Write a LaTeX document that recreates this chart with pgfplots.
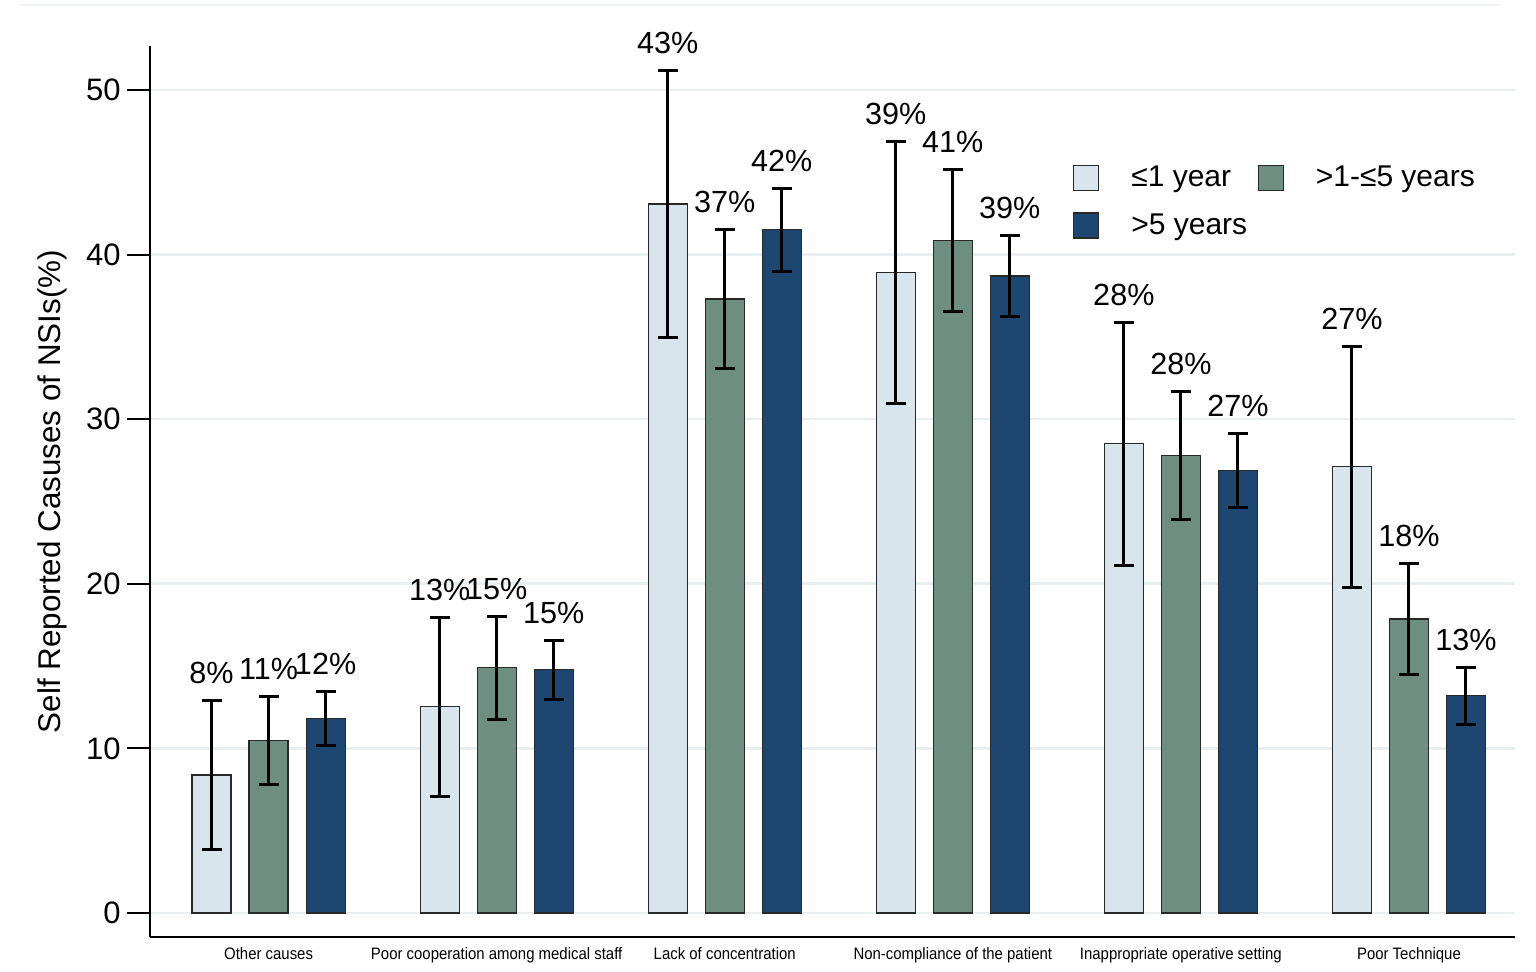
\documentclass[border=0pt]{standalone}
\usepackage{pgfplots}
\pgfplotsset{compat=1.18}
\usepackage{pgfplotstable}
\usepackage{graphicx}
\usepackage{fontspec}
\setmainfont{Liberation Sans}

\definecolor{cL}{RGB}{217,229,237}
\definecolor{cG}{RGB}{111,142,130}
\definecolor{cD}{RGB}{29,71,112}
\definecolor{gridc}{RGB}{232,239,241}
\definecolor{edgec}{RGB}{40,40,40}

% x = category index, y = value, e = half-width of error bar, lbl = printed percentage
\pgfplotstableread{
x y e lbl
0 8.38 4.54 8
1 12.53 5.44 13
2 43.07 8.10 43
3 38.90 7.97 39
4 28.50 7.40 28
5 27.10 7.30 27
}\dataL
\pgfplotstableread{
x y e lbl
0 10.50 2.68 11
1 14.90 3.12 15
2 37.30 4.22 37
3 40.87 4.30 41
4 27.80 3.90 28
5 17.86 3.35 18
}\dataG
\pgfplotstableread{
x y e lbl
0 11.80 1.65 12
1 14.78 1.80 15
2 41.50 2.50 42
3 38.70 2.45 39
4 26.90 2.25 27
5 13.20 1.73 13
}\dataD

\newcommand{\xl}[1]{\scalebox{0.9}[1]{#1}}
\pgfplotsset{
  mybar/.style={ybar, bar width=0.171, bar shift=0, draw=edgec, line width=0.6pt,
    legend image code/.code={\draw[##1] (0pt,-6.25pt) rectangle (12.5pt,6.25pt); \path (27.5pt,0pt);},
    error bars/y dir=both, error bars/y explicit,
    error bars/error bar style={line width=1.5pt, black, solid},
    error bars/error mark options={rotate=90, mark size=5pt, line width=1.5pt, black}},
  mylab/.style={draw=none, mark=none, forget plot,
    nodes near coords={\pgfplotspointmeta\%},
    point meta=explicit symbolic,
    every node near coord/.append style={anchor=base, yshift=8.5pt, inner sep=0pt, black, font=\fontsize{15.3}{18}\selectfont}},
}

\begin{document}
\begin{tikzpicture}
\useasboundingbox (-75pt,-17pt) rectangle (693pt,468.5pt);
\draw[line width=0.8pt, color={rgb,255:red,240;green,243;blue,245}] (-65pt,466pt) -- (675pt,466pt);
\begin{axis}[
  at={(0pt,0pt)}, anchor=south west,
  scale only axis, width=682.5pt, height=445.5pt,
  xmin=-0.52, xmax=5.465, ymin=-1.46, ymax=52.67,
  axis x line*=bottom, axis y line*=left,
  axis line style={line width=1pt, black},
  ytick={0,10,20,30,40,50},
  xtick={0,1,2,3,4,5},
  xticklabels={\xl{Other causes},\xl{Poor cooperation among medical staff},\xl{Lack of concentration},\xl{Non-compliance of the patient},\xl{Inappropriate operative setting},\xl{Poor Technique}},
  xtick style={draw=none},
  ytick style={line width=1pt, black},
  tick align=outside, major tick length=11.5pt,
  ymajorgrids, grid style={line width=1.3pt, gridc},
  /pgf/number format/assume math mode=true,
  yticklabel style={font=\fontsize{15.5}{18}\selectfont, inner sep=3pt},
  xticklabel style={font=\fontsize{8.3}{10}\selectfont, yshift=10pt},
  ylabel={Self Reported Casuses of NSIs(\%)},
  ylabel style={at={(axis description cs:-0.0718,0.5)}, anchor=center, font=\fontsize{15.7}{18}\selectfont},
  legend columns=2,
  legend style={at={(rel axis cs:0.676,0.868)}, anchor=north west, draw=none, fill=none,
    inner sep=0pt, font=\fontsize{15}{18}\selectfont,
    /tikz/every even column/.append style={column sep=4.2pt}, row sep=10pt,
    nodes={inner sep=1pt}},
  legend cell align=left,
]
\addplot[mybar, fill=cL] table[x expr=\thisrow{x}-0.25, y=y, y error=e] {\dataL};
\addlegendentry{≤1 year}
\addplot[mybar, fill=cG] table[x=x, y=y, y error=e] {\dataG};
\addlegendentry{>1-≤5 years}
\addplot[mybar, fill=cD] table[x expr=\thisrow{x}+0.25, y=y, y error=e] {\dataD};
\addlegendentry{>5 years}
\addplot[mylab] table[x expr=\thisrow{x}-0.25, y expr=\thisrow{y}+\thisrow{e}, meta=lbl] {\dataL};
\addplot[mylab] table[x=x, y expr=\thisrow{y}+\thisrow{e}, meta=lbl] {\dataG};
\addplot[mylab] table[x expr=\thisrow{x}+0.25, y expr=\thisrow{y}+\thisrow{e}, meta=lbl] {\dataD};
\end{axis}
\end{tikzpicture}
\end{document}
